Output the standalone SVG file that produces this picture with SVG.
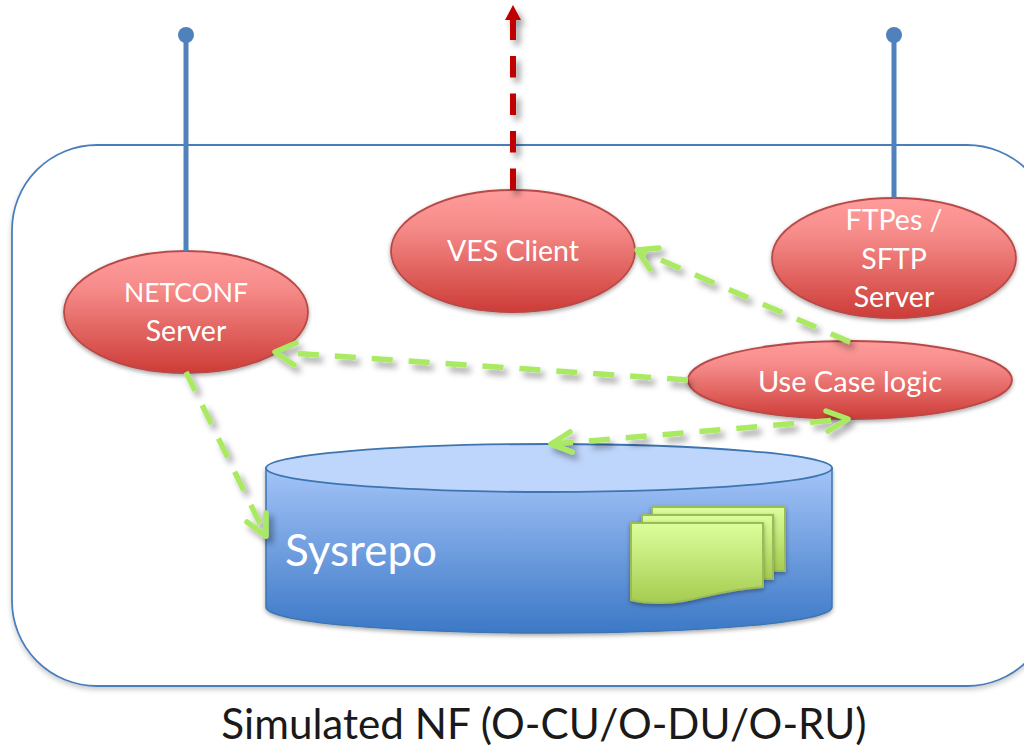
<svg xmlns="http://www.w3.org/2000/svg" width="1024" height="749" viewBox="0 0 1024 749">
<style>
text{font-family:Lato,"Open Sans","Liberation Sans",sans-serif;text-anchor:middle}
.w{fill:#fff;font-size:28.5px}
.e{fill:url(#red);stroke:#b84a48;stroke-width:1.8;filter:url(#sh)}
.g{fill:none;stroke:#a9ea62;stroke-width:5.5;stroke-dasharray:21 16}
.h{fill:none;stroke:#a9ea62;stroke-width:5.5;stroke-linecap:round;stroke-linejoin:round}
.b{fill:none;stroke:#4f81bd;stroke-width:5}
.d{fill:#4f81bd}
.p{fill:url(#gr);stroke:#9bbb59;stroke-width:2;filter:url(#sh)}
</style>
<defs>
<linearGradient id="red" x1="0" y1="0" x2="0" y2="1"><stop offset="0" stop-color="#ff9c9c"/><stop offset=".3" stop-color="#f68c8a"/><stop offset="1" stop-color="#cd3c37"/></linearGradient>
<linearGradient id="blue" x1="0" y1="0" x2="0" y2="1"><stop offset="0" stop-color="#a3c4f8"/><stop offset="1" stop-color="#3c78c6"/></linearGradient>
<linearGradient id="gr" x1="0" y1="0" x2="0" y2="1"><stop offset="0" stop-color="#dcff9c"/><stop offset="1" stop-color="#a5cc50"/></linearGradient>
<filter id="sh" x="-10%" y="-10%" width="120%" height="125%"><feDropShadow dx="0" dy="2" stdDeviation="2" flood-color="#000" flood-opacity=".35"/></filter>
<filter id="sl" filterUnits="userSpaceOnUse" x="0" y="0" width="1024" height="749"><feDropShadow dx="4" dy="5" stdDeviation="3" flood-color="#000" flood-opacity=".38"/></filter>
<filter id="sb" x="-5%" y="-5%" width="110%" height="110%"><feDropShadow dx="0" dy="3" stdDeviation="2.5" flood-color="#000" flood-opacity=".2"/></filter>
</defs>
<g id="nf-boundary"><rect x="12" y="145" width="1040" height="541" rx="85" ry="85" fill="#fff" stroke="#4a7ebb" stroke-width="1.8" filter="url(#sb)"/></g>
<g id="sysrepo">
<path d="M266 468V607C266 622 393 633 549 633S832 622 832 607V468Z" fill="url(#blue)" stroke="#3d75b0" stroke-width="1.5" filter="url(#sh)"/>
<ellipse cx="549" cy="468" rx="283" ry="24" fill="#bed6fb" stroke="#3d75b0" stroke-width="1.8"/>
<text x="361" y="566" fill="#fff" font-size="44">Sysrepo</text>
<path class="p" d="M652 507H785V571H772V515H652Z"/>
<path class="p" d="M642 515H773V579H762V523H642Z"/>
<path class="p" d="M631 523H763V587C715 590 695 603 660 603C647 603 638 602 631 600Z"/>
</g>
<g id="ves-client"><ellipse class="e" cx="513" cy="251" rx="122" ry="61"/><text class="w" x="513" y="261">VES Client</text></g>
<g id="netconf-server"><ellipse class="e" cx="186" cy="312" rx="122" ry="61"/><text class="w" x="186" y="302" style="font-size:26.5px">NETCONF</text><text class="w" x="186" y="341">Server</text></g>
<g id="ftp-server"><ellipse class="e" cx="894" cy="258" rx="122" ry="60"/><text class="w" x="894" y="230">FTPes /</text><text class="w" x="894" y="269">SFTP</text><text class="w" x="894" y="307">Server</text></g>
<g id="use-case-logic"><ellipse class="e" cx="850" cy="380" rx="162" ry="39"/><text class="w" x="850" y="392" style="font-size:29px">Use Case logic</text></g>
<g id="connectors">
<path class="b" d="M186 35V251M894 35V198"/>
<circle class="d" cx="186" cy="35" r="8"/><circle class="d" cx="894" cy="35" r="8"/>
<g filter="url(#sl)">
<path d="M513 190V20" fill="none" stroke="#c00000" stroke-width="6" stroke-dasharray="21.5 16"/>
<path d="M513 5L521 20H505Z" fill="#c00000"/>
<path class="g" d="M850 342L640 251"/>
<path class="h" d="M659 248L637 250L650 269"/>
<path class="g" d="M688 380L276 352"/>
<path class="h" d="M296 343L275 352L294 365"/>
<path class="g" d="M186 372L266 536"/>
<path class="h" d="M247 522L266 536L266 513"/>
<path class="g" d="M552 444L848 419"/>
<path class="h" d="M570 432L551 444L572 452M826 411L848 419L828 431"/>
</g>
</g>
<text x="544" y="739" fill="#1a1a1a" font-size="42.2">Simulated NF (O-CU/O-DU/O-RU)</text>
</svg>
